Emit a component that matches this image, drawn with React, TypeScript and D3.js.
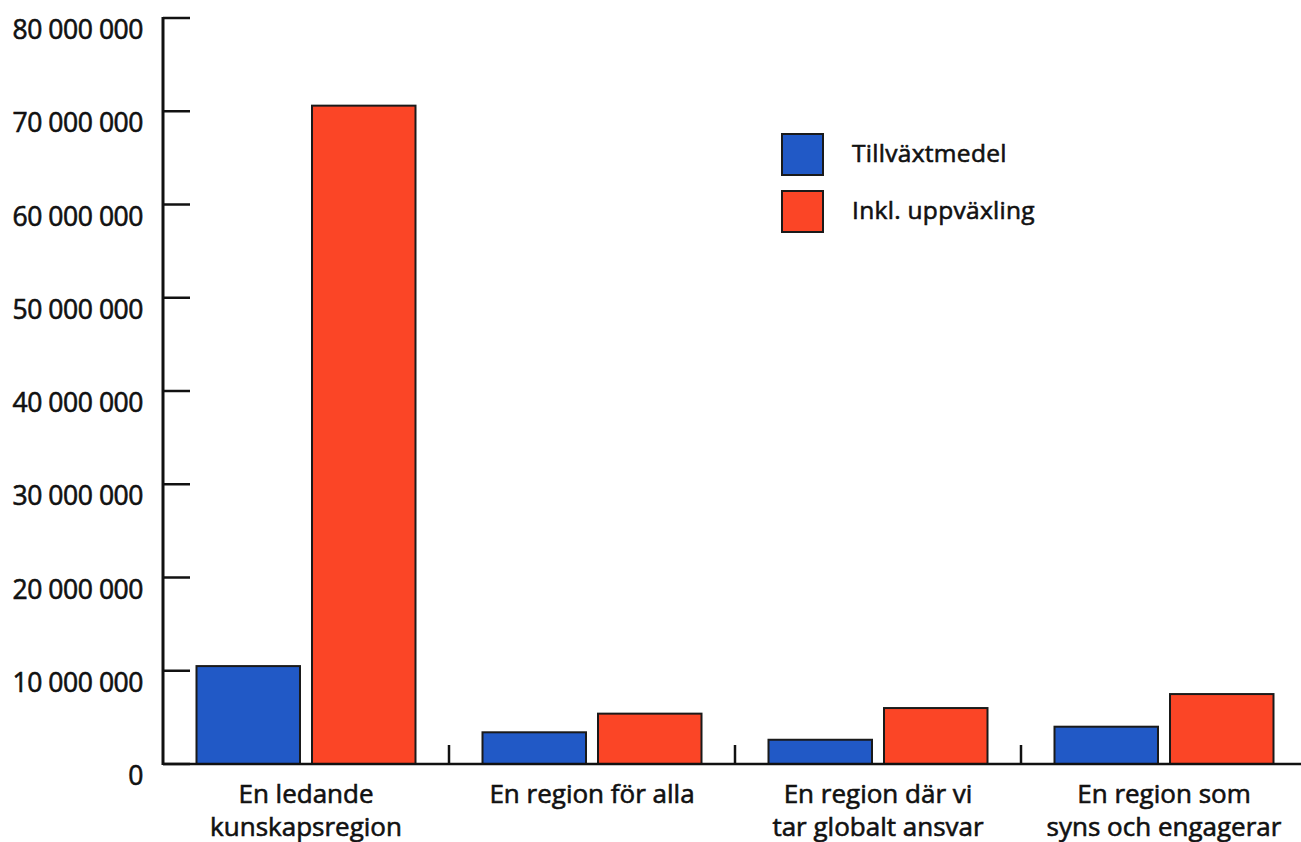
import React from "react";
import * as d3 from "d3";

const categories: string[][] = [
  ["En ledande", "kunskapsregion"],
  ["En region för alla"],
  ["En region där vi", "tar globalt ansvar"],
  ["En region som", "syns och engagerar"],
];
const seriesNames = ["Tillväxtmedel", "Inkl. uppväxling"];
const tillvaxt = [10500000, 3400000, 2600000, 4000000];
const inkl = [70600000, 5400000, 6000000, 7500000];
const yTicks = [0, 10000000, 20000000, 30000000, 40000000, 50000000, 60000000, 70000000, 80000000];
const colors = ["#2159c6", "#fb4526"];

const fmt = (v: number) => d3.format(",")(v).replace(/,/g, " ");

export default function App() {
  const W = 1301, H = 842;
  const x0 = 163, yTop = 18, yBot = 764;
  const catIdx = categories.map((_, i) => String(i));
  const x = d3.scaleBand<string>().domain(catIdx).range([x0, x0 + 286 * 4]).paddingInner(0).paddingOuter(0);
  const x1 = d3.scaleBand<string>().domain(seriesNames).range([0, x.bandwidth()]).paddingInner(0.104).paddingOuter(0.29);
  const y = d3.scaleLinear().domain([0, 80000000]).range([yBot, yTop]);
  const data = [tillvaxt, inkl];
  const font = "'Open Sans', 'Noto Sans', sans-serif";
  const txt = { fill: "#111", stroke: "#111", strokeWidth: 0.6 };

  return (
    <svg width={W} height={H} style={{ position: "absolute", left: 0, top: 0, background: "#fff" }} fontFamily={font}>
      <rect x={0} y={0} width={W} height={H} fill="#fff" />
      {/* bars */}
      {catIdx.map((c, i) =>
        seriesNames.map((s, j) => {
          const v = data[j][i];
          return (
            <rect
              key={c + s}
              x={(x(c) as number) + (x1(s) as number)}
              y={y(v)}
              width={x1.bandwidth()}
              height={yBot - y(v)}
              fill={colors[j]}
              stroke="#1a1a1a"
              strokeWidth={2}
            />
          );
        })
      )}
      {/* y axis */}
      <line x1={x0} x2={x0} y1={yTop - 1} y2={yBot + 1} stroke="#111" strokeWidth={3} />
      {yTicks.map((t) => (
        <g key={t}>
          <line x1={x0} x2={x0 + 27} y1={y(t)} y2={y(t)} stroke="#111" strokeWidth={2.5} />
          <text x={143} y={y(t) + 21} textAnchor="end" fontSize={26.5} {...txt} letterSpacing={-0.45}>
            {fmt(t)}
          </text>
        </g>
      ))}
      {/* x axis */}
      <line x1={x0} x2={W} y1={yBot} y2={yBot} stroke="#111" strokeWidth={2.5} />
      {catIdx.slice(1).map((c) => (
        <line key={c} x1={x(c) as number} x2={x(c) as number} y1={yBot} y2={yBot - 19} stroke="#111" strokeWidth={2.5} />
      ))}
      {categories.map((lines, i) => {
        const cx = (x(String(i)) as number) + x.bandwidth() / 2;
        return (
          <text key={i} x={cx} textAnchor="middle" fontSize={26} {...txt}>
            {lines.map((l, k) => (
              <tspan key={k} x={cx} y={803 + k * 33}>
                {l}
              </tspan>
            ))}
          </text>
        );
      })}
      {/* legend */}
      {seriesNames.map((s, j) => (
        <g key={s}>
          <rect x={782} y={134 + j * 57} width={41} height={41} fill={colors[j]} stroke="#1a1a1a" strokeWidth={2} />
          <text x={852} y={162 + j * 57} fontSize={24.5} {...txt} letterSpacing={0.3}>
            {s}
          </text>
        </g>
      ))}
    </svg>
  );
}
